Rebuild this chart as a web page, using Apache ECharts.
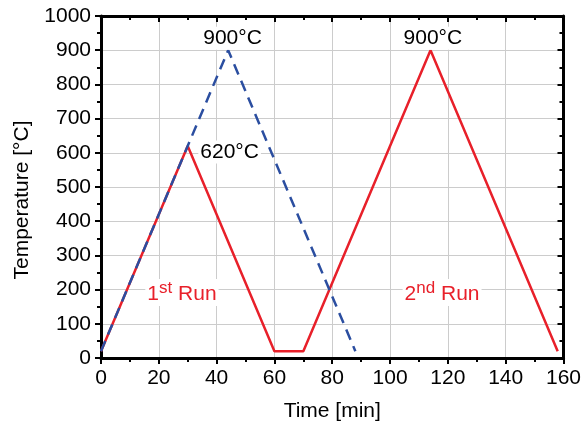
<!DOCTYPE html>
<html>
<head>
<meta charset="utf-8">
<script src="https://cdn.jsdelivr.net/npm/echarts@6/dist/echarts.min.js"></script>
<style>html,body{margin:0;padding:0;background:#fff}#c{width:584px;height:428px}</style>
</head>
<body>
<div id="c"></div>
<script>
// Data
const run1Time = [0, 30, 60, 70, 114, 158];
const run1Temp = [20, 620, 20, 20, 900, 20];
const refTime = [0, 44, 88];
const refTemp = [20, 900, 20];
const xTicks = [0, 20, 40, 60, 80, 100, 120, 140, 160];
const yTicks = [0, 100, 200, 300, 400, 500, 600, 700, 800, 900, 1000];
const annotations = [
  {x: 45.5, y: 900, text: '900°C', color: '#000', dy: -12},
  {x: 114.8, y: 900, text: '900°C', color: '#000', dy: -12},
  {x: 44.5, y: 620, text: '620°C', color: '#000', dy: 6},
  {x: 28, y: 200, text: '{n|1}{sup|st} {n|Run}', color: '#e8202a', dy: 3, rich: true},
  {x: 118, y: 200, text: '{n|2}{sup|nd} {n|Run}', color: '#e8202a', dy: 3, rich: true}
];

const FONT = '"Liberation Sans", Arial, sans-serif';
const chart = echarts.init(document.getElementById('c'), null, {renderer: 'canvas'});
const red = '#e8202a', blue = '#2b4ea0';
const axisLine = {show: true, onZero: false, lineStyle: {color: '#000', width: 3}};
const tick = (inside) => ({show: true, inside: inside, length: 6, lineStyle: {color: '#000', width: 2}});
const minor = {show: true, splitNumber: 2, length: 4, lineStyle: {color: '#000', width: 2}};
const label = {fontFamily: FONT, fontSize: 21, color: '#000', margin: 10, formatter: v => String(v)};
const option = {
  animation: false,
  backgroundColor: '#fff',
  grid: {left: 101, right: 19, top: 16, bottom: 70},
  xAxis: [
    {
      type: 'value', min: xTicks[0], max: xTicks[xTicks.length - 1], interval: 20,
      name: 'Time [min]', nameLocation: 'middle', nameGap: 43,
      nameTextStyle: {fontFamily: FONT, fontSize: 21, color: '#000'},
      axisLine: axisLine, axisTick: tick(false), minorTick: minor, axisLabel: label,
      splitLine: {show: true, lineStyle: {color: '#cccccc', width: 1}}
    },
    {
      type: 'value', position: 'top', min: xTicks[0], max: xTicks[xTicks.length - 1], interval: 20,
      axisLine: axisLine, axisTick: tick(true), minorTick: minor,
      axisLabel: {show: false}, splitLine: {show: false}
    }
  ],
  yAxis: [
    {
      type: 'value', min: yTicks[0], max: yTicks[yTicks.length - 1], interval: 100,
      name: 'Temperature [°C]', nameLocation: 'middle', nameGap: 68,
      nameTextStyle: {fontFamily: FONT, fontSize: 21, color: '#000', padding: [0, 26, 0, 0]},
      axisLine: axisLine, axisTick: tick(false), minorTick: minor, axisLabel: label,
      splitLine: {show: true, lineStyle: {color: '#cccccc', width: 1}}
    },
    {
      type: 'value', position: 'right', min: yTicks[0], max: yTicks[yTicks.length - 1], interval: 100,
      axisLine: axisLine, axisTick: tick(true), minorTick: minor,
      axisLabel: {show: false}, splitLine: {show: false}
    }
  ],
  series: [
    {
      type: 'line', data: run1Time.map((t, i) => [t, run1Temp[i]]), symbol: 'none',
      lineStyle: {color: red, width: 2.5}, z: 3
    },
    {
      type: 'line', data: refTime.map((t, i) => [t, refTemp[i]]), symbol: 'none',
      lineStyle: {color: blue, width: 2.5, type: [11, 7]}, z: 4
    }
  ]
};
chart.setOption(option);

const graphics = annotations.map(a => {
  const p = chart.convertToPixel({xAxisIndex: 0, yAxisIndex: 0}, [a.x, a.y]);
  return {
    type: 'text', x: p[0], y: p[1] + a.dy, z: 10,
    style: {
      text: a.text, fill: a.color, font: '21px ' + FONT,
      align: 'center', verticalAlign: 'middle',
      backgroundColor: '#fff', padding: [1, 2],
      rich: a.rich ? {
        sup: {fontSize: 17, fontFamily: FONT, fill: a.color, verticalAlign: 'top', lineHeight: 25},
        n: {fontSize: 21, fontFamily: FONT, fill: a.color, verticalAlign: 'bottom', lineHeight: 25}
      } : undefined
    }
  };
});
chart.setOption({graphic: graphics});
</script>
</body>
</html>
